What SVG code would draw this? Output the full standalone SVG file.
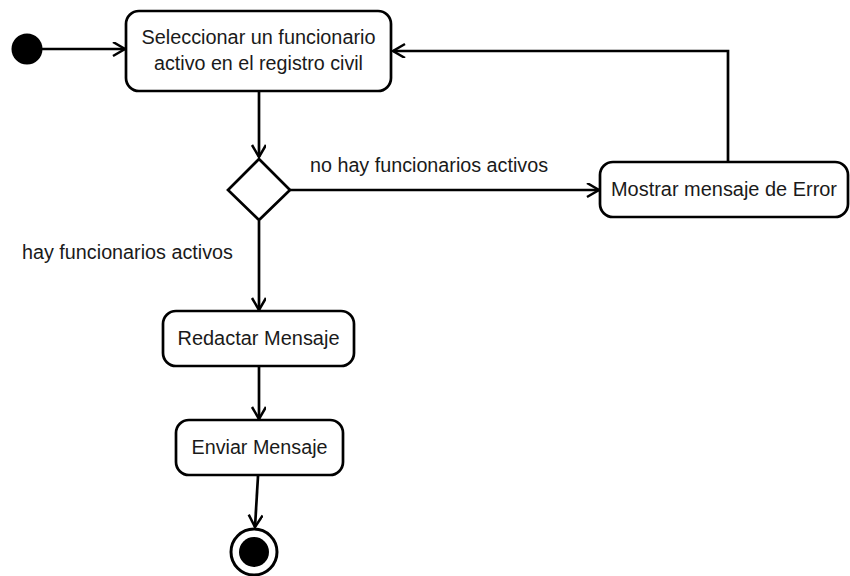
<svg xmlns="http://www.w3.org/2000/svg" width="850" height="576" viewBox="0 0 850 576">
  <style>
    .node { fill: #ffffff; stroke: #000000; stroke-width: 2.7; }
    .edge { fill: none; stroke: #000000; stroke-width: 2.7; }
    .lbl { font-family: "Liberation Sans", Arial, sans-serif; font-size: 19.5px; fill: #1a1a1a; }
  </style>
  <defs>
    <marker id="open" markerWidth="16" markerHeight="16" refX="13" refY="7" orient="auto" markerUnits="userSpaceOnUse">
      <path d="M1,0 L13,7 L1,14" fill="none" stroke="#000" stroke-width="2.5"/>
    </marker>
  </defs>

  <g id="connectors">
    <line class="edge" x1="42" y1="49" x2="125" y2="49" marker-end="url(#open)"/>
    <line class="edge" x1="259" y1="92" x2="259" y2="157" marker-end="url(#open)"/>
    <line class="edge" x1="290" y1="190" x2="599" y2="190" marker-end="url(#open)"/>
    <polyline class="edge" points="728,161 728,51 393,51" marker-end="url(#open)"/>
    <line class="edge" x1="259" y1="221" x2="259" y2="310" marker-end="url(#open)"/>
    <line class="edge" x1="259" y1="367" x2="259" y2="419" marker-end="url(#open)"/>
    <line class="edge" x1="258" y1="476" x2="255" y2="527" marker-end="url(#open)"/>
    <text class="lbl" x="310" y="172" textLength="238" lengthAdjust="spacingAndGlyphs">no hay funcionarios activos</text>
    <text class="lbl" x="22" y="259" textLength="211" lengthAdjust="spacingAndGlyphs">hay funcionarios activos</text>
  </g>

  <g id="start">
    <circle cx="27" cy="49" r="15.5" fill="#000"/>
  </g>

  <g id="seleccionar">
    <rect class="node" x="126" y="11" width="265" height="80" rx="13"/>
    <text class="lbl" x="258.5" y="44" text-anchor="middle" textLength="234" lengthAdjust="spacingAndGlyphs">Seleccionar un funcionario</text>
    <text class="lbl" x="258.5" y="70" text-anchor="middle" textLength="209" lengthAdjust="spacingAndGlyphs">activo en el registro civil</text>
  </g>

  <g id="decision">
    <polygon class="node" points="259,159 290,190 259,220 228,190"/>
  </g>

  <g id="mostrar">
    <rect class="node" x="600" y="162" width="248" height="55" rx="13"/>
    <text class="lbl" x="724" y="196" text-anchor="middle" textLength="226" lengthAdjust="spacingAndGlyphs">Mostrar mensaje de Error</text>
  </g>

  <g id="redactar">
    <rect class="node" x="163" y="311" width="191" height="55" rx="13"/>
    <text class="lbl" x="258.5" y="345" text-anchor="middle" textLength="162" lengthAdjust="spacingAndGlyphs">Redactar Mensaje</text>
  </g>

  <g id="enviar">
    <rect class="node" x="176" y="420" width="167" height="55" rx="13"/>
    <text class="lbl" x="259.5" y="454" text-anchor="middle" textLength="136" lengthAdjust="spacingAndGlyphs">Enviar Mensaje</text>
  </g>

  <g id="end">
    <circle cx="254" cy="552" r="23" fill="#fff" stroke="#000" stroke-width="3"/>
    <circle cx="254" cy="552" r="15" fill="#000"/>
  </g>
</svg>
